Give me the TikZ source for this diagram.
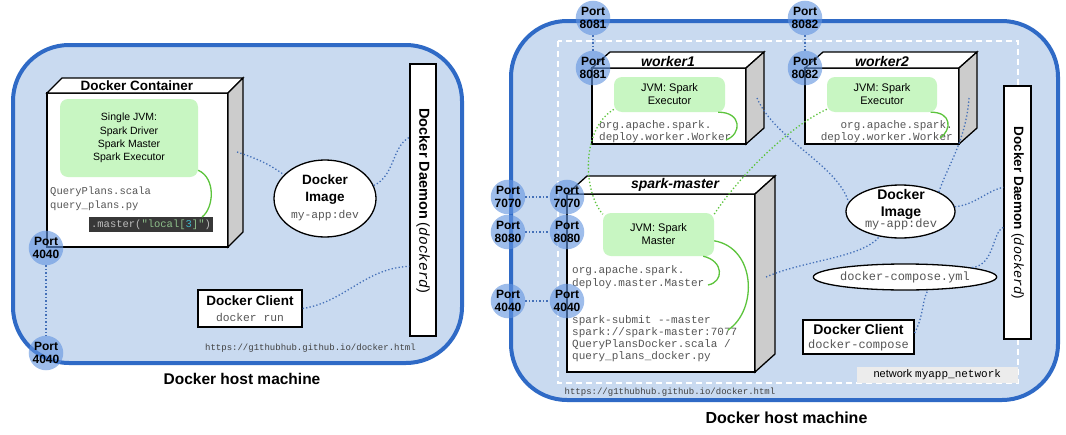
\documentclass[tikz,border=0pt]{standalone}
\usepackage{fontspec}
\setmainfont{Liberation Sans}
\setsansfont{Liberation Sans}
\setmonofont{Liberation Mono}
\usetikzlibrary{calc,shapes.geometric}
\definecolor{hostfill}{HTML}{C9DAF0}
\definecolor{hostblue}{HTML}{2F6AC6}
\definecolor{portblue}{HTML}{6495E0}
\definecolor{jvmgreen}{HTML}{C8F6C2}
\definecolor{linegreen}{HTML}{5CC43C}
\definecolor{linkblue}{HTML}{4470B8}
\definecolor{sidegray}{HTML}{CCCCCC}
\definecolor{codegray}{HTML}{555555}
\definecolor{codebg}{HTML}{383838}
\definecolor{codelight}{HTML}{BDBDBD}
\definecolor{codegreen}{HTML}{8DBF8A}
\definecolor{codecyan}{HTML}{3FB3C6}
\definecolor{netgray}{HTML}{ECECEC}
\newcommand\setfs[2]{\fontsize{#1}{#2}\selectfont}
\newcommand\mycube[3]{%
  \draw[cubeline,fill=white] (#1.north west) -- ++(#2,-#3) -- ($(#1.north east)+(#2,-#3)$) -- (#1.north east) -- cycle;
  \draw[cubeline,fill=sidegray] (#1.north east) -- ++(#2,-#3) -- ($(#1.south east)+(#2,-#3)$) -- (#1.south east) -- cycle;}
\tikzset{
  host/.style={draw=hostblue, line width=4pt, fill=hostfill, rounded corners=56pt},
  netrect/.style={draw=white, line width=2pt, dash pattern=on 6pt off 4pt},
  front/.style={draw=black, line width=1.3pt, fill=white, rectangle, outer sep=0pt, inner sep=0pt},
  cubeline/.style={draw=black, line width=1.3pt, line join=miter},
  title/.style={font=\bfseries\itshape\setfs{14}{16}, inner sep=0pt},
  jvm/.style={fill=jvmgreen, rounded corners=8pt, inner sep=0pt, align=center, rectangle},
  port/.style={circle, fill=portblue, fill opacity=0.62, text opacity=1, minimum size=31pt, inner sep=0pt, align=center, font=\bfseries\setfs{12}{13.5}},
  link/.style={linkblue, line width=1.3pt, dash pattern=on 1.3pt off 2.2pt},
  glink/.style={linegreen, line width=1.3pt, dash pattern=on 1.3pt off 2.2pt},
  gcurve/.style={linegreen, line width=1.3pt},
  code/.style={font=\ttfamily\setfs{11}{12}, text=codegray, align=left, inner sep=0pt},
  whitebox/.style={draw=black, line width=1.3pt, fill=white, rectangle, inner sep=0pt, align=center},
  oval/.style={draw=black, line width=1.3pt, fill=white, ellipse, inner sep=0pt, align=center},
  hostlabel/.style={font=\bfseries\setfs{15.5}{18}, inner sep=0pt},
  url/.style={font=\ttfamily\setfs{9}{10}, text=black!75, inner sep=0pt}
}
\begin{document}
\begin{tikzpicture}[x=1pt,y=-1pt]
\useasboundingbox (0,0) rectangle (1066,434);
\fill[white] (0,0) rectangle (1066,434);

% ================= LEFT HOST =================
\draw[host] (13,45) rectangle (462,363);
\node[hostlabel] (lhl) at (242,379) {Docker host machine};
\node[url, anchor=east] (lurl) at (416,348) {https://g1thubhub.github.io/docker.html};

% Docker container cube
\node[front, minimum width=181pt, minimum height=154pt] (dc) at (137.5,170) {};
\mycube{dc}{15}{15}
\node[font=\bfseries\setfs{13.5}{15}, inner sep=0pt] (dct) at (137,85.5) {Docker Container};
\node[jvm, minimum width=138pt, minimum height=78pt, font=\setfs{10.5}{13.3}] (ljvm) at (129,138) {Single JVM:\\Spark Driver\\Spark Master\\Spark Executor};
\node[code, font=\ttfamily\setfs{10.5}{13.8}, anchor=west] (lsrc) at (50,199) {QueryPlans.scala\\query\_plans.py};
\node[fill=codebg, minimum width=124pt, minimum height=15pt, inner sep=0pt, font=\ttfamily\setfs{10.5}{12}] (lcode) at (151,224.5)
  {\textcolor{codelight}{.master(}\textcolor{codegreen}{"local[}\textcolor{codecyan}{3}\textcolor{codegreen}{]"}\textcolor{codelight}{)}};
\coordinate (lcodein) at (202,217);
\draw[gcurve] (ljvm.-25) .. controls (216,178) and (214,208) .. (lcodein);

% Docker image
\node[oval, minimum width=102pt, minimum height=77pt] (limg) at (325,198.5) {};
\node[font=\bfseries\setfs{13.5}{17}, align=center, inner sep=0pt] (limgt) at (325,190) {Docker\\Image};
\node[code, font=\ttfamily\setfs{11.3}{12}] (limgs) at (325,216) {my-app:dev};

% Daemon
\node[whitebox, minimum width=26pt, minimum height=272pt] (ldd) at (423,200) {};
\node[rotate=-90, inner sep=0pt] (lddt) at (423,201) {\bfseries\setfs{14.5}{16}Docker Daemon \mdseries(\textit{\ttfamily dockerd})};

% Client
\node[whitebox, minimum width=104pt, minimum height=37pt] (lcl) at (250,308.5) {};
\node[font=\bfseries\setfs{13.5}{15}, inner sep=0pt] (lclt) at (250,301) {Docker Client};
\node[code, font=\ttfamily\setfs{11.3}{12}] (lcls) at (250,317.5) {docker run};

% connectors
\coordinate (dcside) at (237,152);
\draw[link] (dcside) .. controls (255,158) and (268,163) .. (limg.150);
\draw[link] (limg.15) .. controls (395,176) and (392,146) .. ($(ldd.north west)+(0,74)$);
\draw[link] (lcl.east) .. controls (345,302) and (365,268) .. ($(ldd.north west)+(0,203)$);

% ports
\node[port] (lp1) at (46,248) {Port\\4040};
\node[port] (lp2) at (46,353) {Port\\4040};
\draw[link] (lp1.south) -- (lp2.north);

% ================= RIGHT HOST =================
\draw[host] (511,21) rectangle (1058,400);
\draw[netrect] (558,41) rectangle (1018,383);
\node[fill=netgray, minimum width=161pt, minimum height=16pt, inner sep=0pt, anchor=south east] (net) at (1018,383)
  {\setfs{11}{12}network \ttfamily myapp\_network};
\node[hostlabel, font=\bfseries\setfs{16}{18}] (rhl) at (786.5,418) {Docker host machine};
\node[url, anchor=center] (rurl) at (670,392) {https://g1thubhub.github.io/docker.html};

% worker1
\node[front, minimum width=154pt, minimum height=76pt] (w1) at (669,106) {};
\mycube{w1}{18}{16}
\node[title] (w1t) at (668,61) {worker1};
\node[jvm, minimum width=111pt, minimum height=35pt, font=\setfs{11}{13}] (w1jvm) at (669.5,94.5) {JVM: Spark\\Executor};
\node[code, anchor=west] (w1txt) at (599,132) {org.apache.spark.\\deploy.worker.Worker};
\coordinate (w1end) at (726,140);
\draw[gcurve] (w1jvm.-20) .. controls (742,112) and (742,134) .. (w1end);

% worker2
\node[front, minimum width=154pt, minimum height=76pt] (w2) at (882,106) {};
\mycube{w2}{18}{16}
\node[title] (w2t) at (882,61) {worker2};
\node[jvm, minimum width=110pt, minimum height=35pt, font=\setfs{11}{13}] (w2jvm) at (882,94.5) {JVM: Spark\\Executor};
\node[code, anchor=east, align=right] (w2txt) at (953,132) {org.apache.spark.\\deploy.worker.Worker};
\coordinate (w2end) at (940,138);
\draw[gcurve] (w2jvm.-20) .. controls (952,112) and (952,130) .. (w2end);

% spark-master
\node[front, minimum width=188pt, minimum height=178pt] (sm) at (661,283) {};
\mycube{sm}{20}{18}
\node[title] (smt) at (675,185) {spark-master};
\node[jvm, minimum width=111pt, minimum height=43pt, font=\setfs{11}{13}] (mjvm) at (658.5,234.5) {JVM: Spark\\Master};
\node[code, font=\ttfamily\setfs{11}{13}, anchor=west] (mtxt1) at (572,277.5) {org.apache.spark.\\deploy.master.Master};
\node[code, anchor=west] (mtxt2) at (572,339) {spark-submit --master\\spark://spark-master:7077\\QueryPlansDocker.scala /\\query\_plans\_docker.py};
\coordinate (mend1) at (708,285);
\coordinate (mend2) at (728,330);
\draw[gcurve] ($(mjvm.south east)+(-11,0)$) .. controls (724,261) and (724,282) .. (mend1);
\draw[gcurve] ($(mjvm.north east)+(0,28)$) .. controls (756,248) and (758,310) .. (mend2);

% docker image right
\node[oval, minimum width=109pt, minimum height=53pt] (rimg) at (900.5,211.5) {};
\node[font=\bfseries\setfs{14}{17}, align=center, inner sep=0pt] (rimgt) at (901,204) {Docker\\Image};
\node[code, font=\ttfamily\setfs{12}{13}] (rimgs) at (901,224) {my-app:dev};

% compose ellipse
\node[oval, minimum width=146pt, minimum height=26pt, font=\ttfamily\setfs{12}{13}, text=codegray] (comp) at (905,277) {docker-compose.yml};

% client right
\node[whitebox, minimum width=111pt, minimum height=34pt] (rcl) at (858.5,337) {};
\node[font=\bfseries\setfs{14}{15}, inner sep=0pt] (rclt) at (858.5,329.5) {Docker Client};
\node[code, font=\ttfamily\setfs{12}{13}] (rcls) at (858.5,345) {docker-compose};

% daemon right
\node[whitebox, minimum width=27pt, minimum height=253pt] (rdd) at (1017.5,212.5) {};
\node[rotate=-90, inner sep=0pt] (rddt) at (1017.5,213) {\bfseries\setfs{13.5}{15}Docker Daemon \mdseries(\textit{\ttfamily dockerd})};

% blue connectors right
\coordinate (w1side) at (757,98);
\coordinate (w2side) at (969,98);
\coordinate (smside) at (766,277);
\draw[link] (w1side) .. controls (775,140) and (838,165) .. (rimg.170);
\draw[link] (w2side) .. controls (966,140) and (948,165) .. (rimg.27);
\draw[link] (rimg.5) .. controls (975,205) and (988,190) .. ($(rdd.north west)+(0,102)$);
\draw[link] (smside) .. controls (805,260) and (862,258) .. (rimg.230);
\draw[link] (comp.8) .. controls (995,265) and (992,232) .. ($(rdd.north west)+(0,142)$);
\draw[link] ($(rcl.east)+(0,-4)$) .. controls (924,315) and (922,300) .. (comp.-30);

% green dotted right
\draw[glink] (w1jvm.195) .. controls (582,128) and (582,190) .. (mjvm.160);
\draw[glink] (w2jvm.195) .. controls (790,126) and (740,175) .. (mjvm.20);

% ports right
\node[port] (p81o) at (593,18) {Port\\8081};
\node[port] (p81i) at (593,68) {Port\\8081};
\node[port] (p82o) at (805,18) {Port\\8082};
\node[port] (p82i) at (805,68) {Port\\8082};
\node[port] (p70o) at (508,197) {Port\\7070};
\node[port] (p70i) at (567,197) {Port\\7070};
\node[port] (p80o) at (508,232) {Port\\8080};
\node[port] (p80i) at (567,232) {Port\\8080};
\node[port] (p40o) at (508,301) {Port\\4040};
\node[port] (p40i) at (567,301) {Port\\4040};
\draw[link] (p81o.south) -- (p81i.north);
\draw[link] (p82o.south) -- (p82i.north);
\draw[link] (p70o.east) -- (p70i.west);
\draw[link] (p80o.east) -- (p80i.west);
\draw[link] (p40o.east) -- (p40i.west);
\end{tikzpicture}
\end{document}
